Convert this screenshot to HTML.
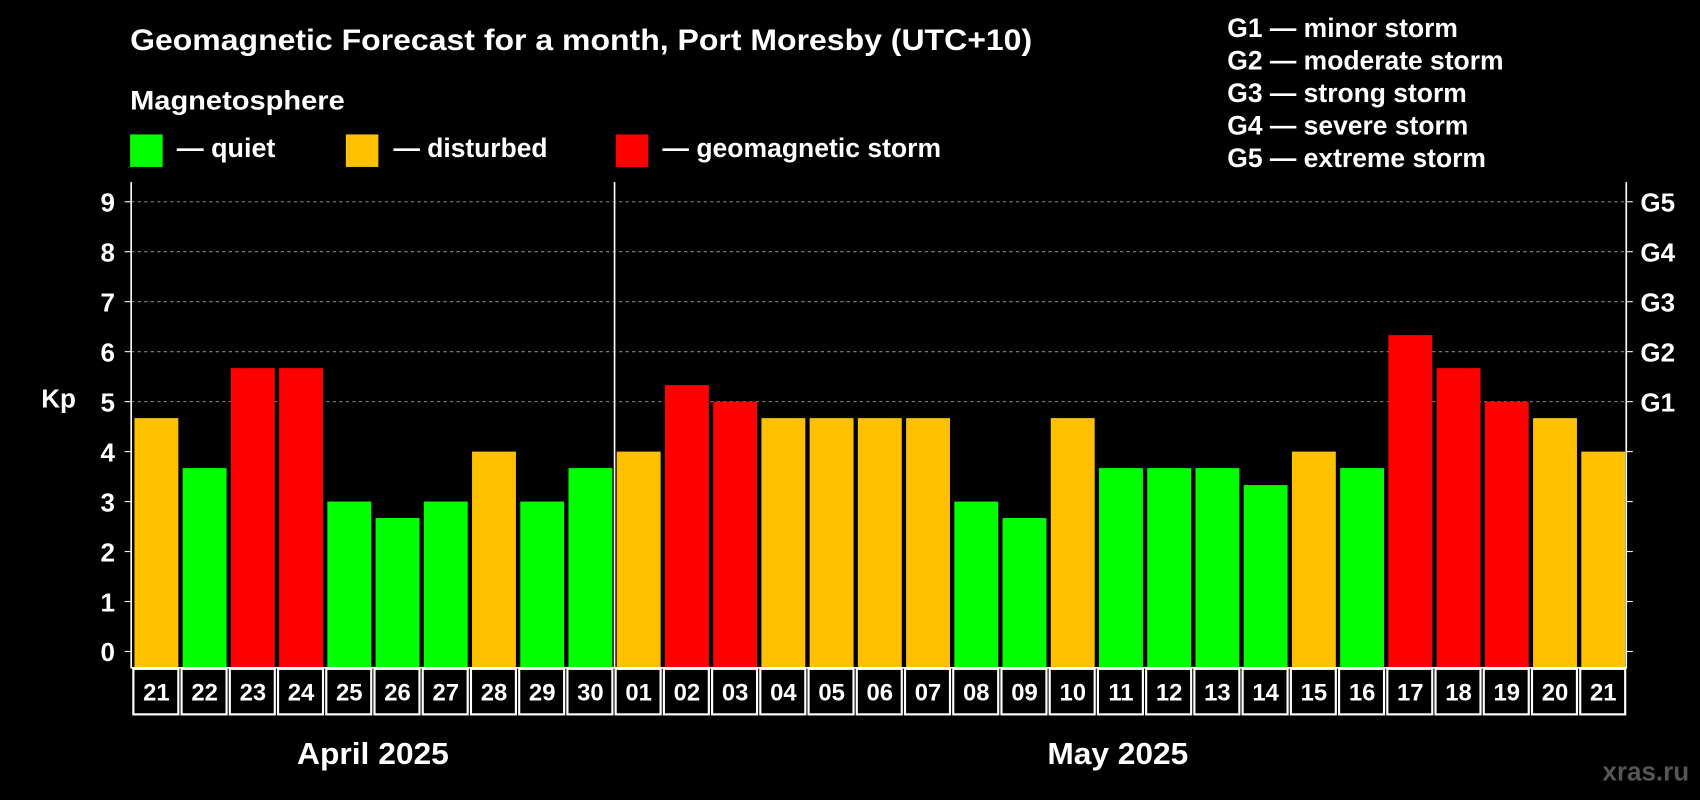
<!DOCTYPE html>
<html><head><meta charset="utf-8"><style>
html,body{margin:0;padding:0;background:#000;}
svg{display:block;font-family:"Liberation Sans",Arial,sans-serif;font-weight:bold;}
</style></head><body>
<svg id="chart" width="1700" height="800" viewBox="0 0 1568 738" preserveAspectRatio="none" xmlns="http://www.w3.org/2000/svg">
<rect x="0" y="0" width="1568" height="738" fill="#000"/>
<text x="120" y="46" fill="#fff" font-size="27" textLength="832" lengthAdjust="spacingAndGlyphs">Geomagnetic Forecast for a month, Port Moresby (UTC+10)</text>
<text x="120" y="101" fill="#fff" font-size="25" textLength="198" lengthAdjust="spacingAndGlyphs">Magnetosphere</text>
<g><rect x="120" y="124" width="30" height="30" fill="#00ff00"/><text x="163" y="145" fill="#fff" font-size="24.4" textLength="91" lengthAdjust="spacingAndGlyphs">— quiet</text></g>
<g><rect x="319" y="124" width="30" height="30" fill="#ffc000"/><text x="363" y="145" fill="#fff" font-size="24.4" textLength="142" lengthAdjust="spacingAndGlyphs">— disturbed</text></g>
<g><rect x="568" y="124" width="30" height="30" fill="#ff0000"/><text x="611" y="145" fill="#fff" font-size="24.4" textLength="257" lengthAdjust="spacingAndGlyphs">— geomagnetic storm</text></g>
<g fill="#fff" font-size="24.4">
<text x="1132" y="34">G1 — minor storm</text>
<text x="1132" y="64">G2 — moderate storm</text>
<text x="1132" y="94">G3 — strong storm</text>
<text x="1132" y="124">G4 — severe storm</text>
<text x="1132" y="154">G5 — extreme storm</text>
</g>
<text x="38" y="376" fill="#fff" font-size="24">Kp</text>
<text x="274" y="705" fill="#fff" font-size="28" textLength="140" lengthAdjust="spacingAndGlyphs">April 2025</text>
<text x="966" y="705" fill="#fff" font-size="28" textLength="130" lengthAdjust="spacingAndGlyphs">May 2025</text>
<text x="1558" y="720" fill="#555" font-size="24" text-anchor="end">xras.ru</text>
<g id="plot"></g>
</svg>
<script>
const days = ["21","22","23","24","25","26","27","28","29","30","01","02","03","04","05","06","07","08","09","10","11","12","13","14","15","16","17","18","19","20","21"];
const kpValues = [4.67,3.67,5.67,5.67,3,2.67,3,4,3,3.67,4,5.33,5,4.67,4.67,4.67,4.67,3,2.67,4.67,3.67,3.67,3.67,3.33,4,3.67,6.33,5.67,5,4.67,4];
const yTicks = [0,1,2,3,4,5,6,7,8,9];
const gLabels = ["G1","G2","G3","G4","G5"];
const gLevels = [5,6,7,8,9];
const monthSplitIndex = 10;

const NS="http://www.w3.org/2000/svg";
const plot=document.getElementById('plot');
const X0=121,X1=1500,YT=168,YB=616;
const pitch=(X1-X0)/days.length;
function xPos(i){return X0+i*pitch;}
function yPos(v){return 601-v*46.1;}
function mk(tag,attrs,parent){const e=document.createElementNS(NS,tag);for(const k in attrs)e.setAttribute(k,attrs[k]);(parent||plot).appendChild(e);return e;}
function color(v){return v<4?"#00ff00":(v<5?"#ffc000":"#ff0000");}

gLevels.forEach((lv,i)=>{
  const l=mk('line',{x1:X0,x2:X1,y1:yPos(lv),y2:yPos(lv),stroke:'#888','stroke-dasharray':'3,3','stroke-width':1});
  
  
  const t=mk('text',{x:X1+13,y:yPos(lv)+9,fill:'#fff','font-size':24});
  t.textContent=gLabels[i];
  
  
});
yTicks.forEach(v=>{
  const t=mk('text',{x:106,y:yPos(v)+9,fill:'#fff','font-size':24,'text-anchor':'end'});
  t.textContent=v;
  
  
  const a=mk('line',{x1:X0-6,x2:X0,y1:yPos(v),y2:yPos(v),stroke:'#fff'});
  
  
  const b=mk('line',{x1:X1,x2:X1+6,y1:yPos(v),y2:yPos(v),stroke:'#fff'});
  
  
});
kpValues.forEach((v,i)=>{
  const r=mk('rect',{x:xPos(i)+3,y:yPos(v),width:pitch-4,height:YB-yPos(v),fill:color(v)});
  
  
  const c=mk('rect',{x:xPos(i)+2,y:YB+1,width:pitch-3,height:42,fill:'none',stroke:'#fff','stroke-width':2});
  
  
  const t=mk('text',{x:xPos(i)+pitch/2+1,y:YB+30,fill:'#fff','font-size':22,'text-anchor':'middle'});
  t.textContent=days[i];
  
  
});
const ax=mk('path',{d:`M${X0} ${YT} V${YB} H${X1} V${YT}`,fill:'none',stroke:'#fff','stroke-width':1.5});


const sep=mk('line',{x1:xPos(monthSplitIndex)+1,x2:xPos(monthSplitIndex)+1,y1:YT,y2:YB,stroke:'#fff','stroke-width':1.5});


</script>
</body></html>
